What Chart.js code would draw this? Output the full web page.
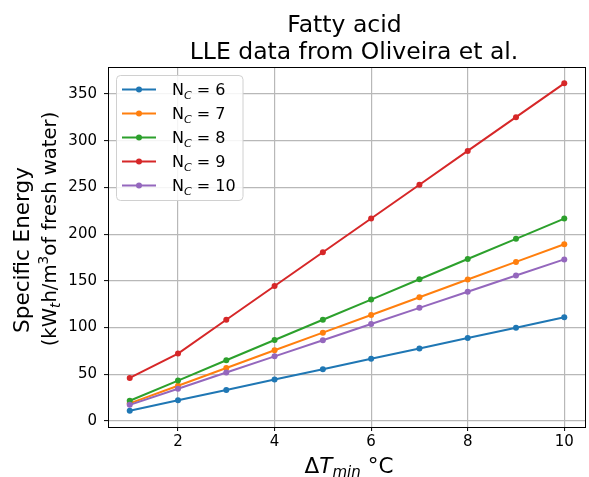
<!DOCTYPE html>
<html>
<head>
<meta charset="utf-8">
<script src="https://cdn.jsdelivr.net/npm/chart.js@4/dist/chart.umd.min.js"></script>
<style>
  html, body { margin: 0; padding: 0; background: #fff; }
  #wrap { width: 589px; height: 477px; }
</style>
</head>
<body>
<div id="wrap"><canvas id="c" width="589" height="477"></canvas></div>
<script>
// ΔT_min values (°C)
const deltaT = [1, 2, 3, 4, 5, 6, 7, 8, 9, 10];

// Specific energy (kWth·h per m³ of fresh water) for each carbon number
const nc6  = [11.1, 22.2, 33.3, 44.4, 55.5, 66.6, 77.7, 88.8, 99.9, 111.0];
const nc7  = [18.9, 37.8, 56.8, 75.7, 94.6, 113.5, 132.4, 151.4, 170.3, 189.2];
const nc8  = [21.7, 43.3, 65.0, 86.7, 108.4, 130.0, 151.7, 173.4, 195.0, 216.7];
const nc9  = [46.1, 72.2, 108.4, 144.5, 180.6, 216.8, 252.9, 289.1, 325.2, 361.4];
const nc10 = [17.3, 34.6, 51.9, 69.2, 86.5, 103.8, 121.1, 138.4, 155.7, 173.0];

const carbonNumbers = ['6', '7', '8', '9', '10'];
const seriesValues = [nc6, nc7, nc8, nc9, nc10];
const seriesColors = ['#1f77b4', '#ff7f0e', '#2ca02c', '#d62728', '#9467bd'];

const xTickValues = [2, 4, 6, 8, 10];
const yTickValues = [0, 50, 100, 150, 200, 250, 300, 350];

const titleLines = ['Fatty acid', 'LLE data from Oliveira et al.'];

const FONT = "'DejaVu Sans'";

// Draw a row of text runs (plain / italic / subscript / superscript)
function runFont(r, size) {
  const s = (r.sub || r.sup) ? size * 0.7 : size;
  return (r.italic ? 'oblique ' : '') + s + 'px ' + FONT;
}
function runsWidth(ctx, runs, size) {
  let w = 0;
  for (const r of runs) { ctx.font = runFont(r, size); w += ctx.measureText(r.t).width; }
  return w;
}
function drawRuns(ctx, runs, x, y, size, align) {
  const total = runsWidth(ctx, runs, size);
  let cx = align === 'center' ? x - total / 2 : x;
  ctx.textBaseline = 'alphabetic';
  ctx.textAlign = 'left';
  for (const r of runs) {
    ctx.font = runFont(r, size);
    let dy = 0;
    if (r.sub) dy = size * 0.2;
    if (r.sup) dy = -size * 0.4;
    ctx.fillText(r.t, cx, y + dy);
    cx += ctx.measureText(r.t).width;
  }
}

const decorations = {
  id: 'decorations',
  afterDatasetsDraw(chart) {
    const { ctx, chartArea: a } = chart;
    ctx.save();
    ctx.strokeStyle = '#000';
    ctx.lineWidth = 1;
    ctx.strokeRect(Math.round(a.left) + 0.5, Math.round(a.top) + 0.5,
                   Math.round(a.right - a.left) - 1, Math.round(a.bottom - a.top));
    ctx.restore();
  },
  afterDraw(chart) {
    const { ctx } = chart;
    ctx.save();
    ctx.fillStyle = '#000';

    // title
    ctx.font = '23.5px ' + FONT;
    ctx.textAlign = 'center';
    ctx.textBaseline = 'alphabetic';
    ctx.fillText(titleLines[0], 344.5, 31.5);
    ctx.fillText(titleLines[1], 354, 58.5);

    // x axis title
    drawRuns(ctx, [
      { t: 'Δ' }, { t: 'T', italic: true }, { t: 'min', italic: true, sub: true }, { t: ' °C' }
    ], 349, 473, 21.5, 'center');

    // y axis title (two rotated lines)
    ctx.save();
    ctx.translate(29, 250);
    ctx.rotate(-Math.PI / 2);
    drawRuns(ctx, [{ t: 'Specific Energy' }], 0, 0, 21.5, 'center');
    ctx.restore();
    ctx.save();
    ctx.translate(56, 229);
    ctx.rotate(-Math.PI / 2);
    drawRuns(ctx, [
      { t: '(kW' }, { t: 't', italic: true, sub: true }, { t: 'h/m' }, { t: '3', sup: true },
      { t: 'of fresh water)' }
    ], 0, 0, 19.6, 'center');
    ctx.restore();

    // legend
    const bx = 116.5, by = 75.5, bw = 126.5, bh = 125;
    ctx.beginPath();
    ctx.roundRect(bx, by, bw, bh, 4);
    ctx.fillStyle = 'rgba(255,255,255,0.85)';
    ctx.fill();
    ctx.strokeStyle = '#d0d0d0';
    ctx.lineWidth = 1;
    ctx.stroke();
    carbonNumbers.forEach((n, i) => {
      const y = 89.5 + i * 24;
      ctx.strokeStyle = seriesColors[i];
      ctx.lineWidth = 2;
      ctx.beginPath();
      ctx.moveTo(122, y);
      ctx.lineTo(156, y);
      ctx.stroke();
      ctx.fillStyle = seriesColors[i];
      ctx.beginPath();
      ctx.arc(139, y, 3, 0, Math.PI * 2);
      ctx.fill();
      ctx.fillStyle = '#000';
      drawRuns(ctx, [{ t: 'N' }, { t: 'C', italic: true, sub: true }, { t: ' = ' + n }],
               172, y + 5.8, 16, 'left');
    });
    ctx.restore();
  }
};

const datasets = carbonNumbers.map((n, i) => ({
  label: 'N_C = ' + n,
  data: deltaT.map((x, j) => ({ x: x, y: seriesValues[i][j] })),
  borderColor: seriesColors[i],
  backgroundColor: seriesColors[i],
  borderWidth: 2,
  pointRadius: 3,
  pointBorderWidth: 0,
  pointHoverRadius: 3,
  tension: 0,
  order: carbonNumbers.length - i
}));

const noPad = s => { s.paddingLeft = 0; s.paddingRight = 0; s.paddingTop = 0; s.paddingBottom = 0; };

new Chart(document.getElementById('c'), {
  type: 'line',
  data: { datasets },
  options: {
    responsive: false,
    animation: false,
    devicePixelRatio: 1,
    layout: { padding: { top: 67, right: 1, left: 0, bottom: 0 } },
    plugins: {
      legend: { display: false },
      title: { display: false },
      tooltip: { enabled: false }
    },
    scales: {
      x: {
        type: 'linear',
        min: 0.55, max: 10.45,
        afterBuildTicks: s => { s.ticks = xTickValues.map(v => ({ value: v })); },
        afterFit: s => { s.height = 50; noPad(s); },
        border: { display: false },
        grid: { color: '#b8b8b8', lineWidth: 1.2, tickColor: '#000', tickLength: 4, tickWidth: 1 },
        ticks: { color: '#000', font: { family: 'DejaVu Sans', size: 15 }, padding: 2, maxRotation: 0 }
      },
      y: {
        type: 'linear',
        min: -6.4, max: 378.9,
        afterBuildTicks: s => { s.ticks = yTickValues.map(v => ({ value: v })); },
        afterFit: s => { s.width = 108; noPad(s); },
        border: { display: false },
        grid: { color: '#b8b8b8', lineWidth: 1.2, tickColor: '#000', tickLength: 4, tickWidth: 1 },
        ticks: { color: '#000', font: { family: 'DejaVu Sans', size: 15 }, padding: 7 }
      }
    }
  },
  plugins: [decorations]
});
</script>
</body>
</html>
